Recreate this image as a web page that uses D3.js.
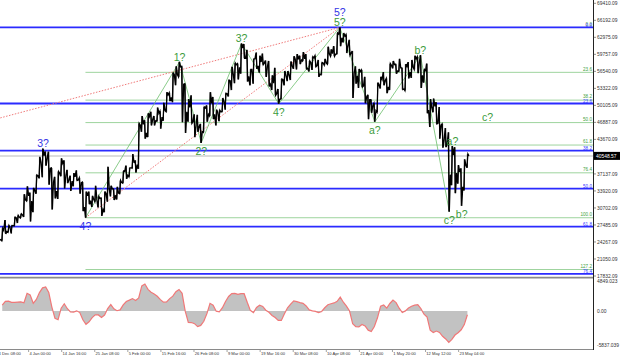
<!DOCTYPE html>
<html><head><meta charset="utf-8">
<script src="https://cdnjs.cloudflare.com/ajax/libs/d3/7.8.5/d3.min.js"></script>
<style>html,body{margin:0;padding:0;background:#fff}svg{display:block}text{font-family:"Liberation Sans",Arial,sans-serif}</style>
</head><body>
<svg id="chart" width="620" height="361"></svg>
<script>
// ---------------- DATA ----------------
// Daily BTCUSD values, day 0 = 24 Dec 2020 ... day 152 = 25 May 2021
const firstOpen = 23240;
const highs = [23780,24770,26870,28420,27390,27400,28990,29300,
 29600,33300,34800,33600,34500,36940,40365,41950,41380,41350,38260,36600,37600,40100,39700,37900,36800,37300,37800,36400,35600,33800,33800,33000,34900,32900,32600,33800,38500,34900,34300,
 34700,35900,37700,38700,38300,40900,39700,46700,48100,47300,48600,48900,48100,49700,49000,50600,52600,52500,56300,57500,58350,57500,54200,51300,52000,48400,48300,46600,
 49800,50100,52600,51700,49300,49200,51500,52400,54900,57400,58100,58000,61800,61700,60600,56900,58900,60100,59500,59900,58600,58500,55800,57200,53200,55100,56600,56600,58400,59400,59800,
 59500,60200,59800,58500,59300,59500,58700,58200,58900,61200,60700,61300,63800,64850,63800,63500,62500,60400,57500,57000,56800,55500,52100,51200,50500,54400,55500,56400,55200,58000,
 58500,57900,58900,57200,57900,58300,58700,59500,59300,59600,56900,58000,51300,51400,50700,49800,46600,45800,45000,42400,42200,38800,38200,39900,40900];
const lows = [22700,23430,24500,25800,26100,25880,27320,27850,
 28800,29000,32000,28130,29900,33400,36300,36500,38700,35100,30400,32500,32400,36700,34400,35400,33900,34800,35900,33400,30100,28850,31400,30900,31900,30800,29200,29900,31900,32900,32200,
 32300,33400,35400,36200,36600,38200,37400,38100,45100,43800,44100,46300,46300,47100,45700,47200,48900,50900,50700,53900,55500,46900,44900,47000,46700,44100,45100,43000,
 45000,47000,48100,47500,46300,47100,48900,49300,51800,53000,54300,55000,56100,59000,54600,53900,54200,57000,56300,57800,55500,53700,53000,52000,50400,51300,53900,54700,54900,57000,56900,
 57900,58500,57000,56500,56800,57400,55500,55900,57700,57900,59400,59400,59800,61300,62000,60000,59600,51500,54200,53400,53600,50500,47500,48700,47000,48800,53300,53900,52400,53000,
 57100,56100,56500,53100,52900,55200,55300,56900,56200,53400,54400,48600,46000,48800,46600,43800,42100,42200,30000,35000,33500,35300,31100,34000,38300];
const closes = [23730,24700,26440,26250,27040,27370,28880,28990,
 29400,32200,33000,32000,34000,36800,39400,40600,40200,38200,35500,33900,37300,39150,36800,36000,35800,36600,36000,35500,30850,33000,32100,32300,32300,32500,30400,33400,34300,34300,33100,
 33500,35500,37600,36900,38300,39200,38900,46400,46500,44900,48000,47400,47200,48600,47900,49100,52100,51600,55900,55900,57400,54100,48900,49700,47000,46300,46100,45100,
 49600,48400,50500,48400,48800,48900,50900,52300,54800,56000,57800,57300,61200,59000,55600,56900,58900,57600,58300,58100,57400,54100,54300,52300,51300,55000,55800,55800,57600,58800,58800,
 58700,58900,57100,58200,59100,57600,56000,58100,58100,59800,59900,59800,63600,62900,63200,61400,60000,56200,55700,56500,53800,51700,51200,50100,49100,54000,55000,54800,53600,57700,
 57800,56600,57200,53200,57500,56400,57300,58900,58200,55800,56700,49200,49700,49900,46700,46400,43500,42900,37000,40700,37300,37500,34700,38800,40548.57];
const lastPrice = 40548.57;

// oscillator, one value per day from day 2
const oscFirstDay = 2;
const osc = [960,1570,1620,1420,1420,1460,1500,1350,2890,2620,
 1260,1880,3010,3780,3940,3010,650,-1180,-1420,470,
 1190,380,-130,-170,30,-250,-1420,-2160,-1760,-1080,
 -620,-640,-1060,-650,410,1050,360,50,180,1010,
 1550,1780,2030,1720,2140,4090,4410,3530,3060,2760,
 2400,1850,1440,1500,2030,2420,3160,3520,2890,-30,
 -1860,-1880,-2060,-2550,-2350,-1680,-430,1260,950,-30,
 -150,540,1560,2370,2830,2890,2730,2840,2830,1420,
 110,-260,570,950,740,130,-210,-720,-1060,-1520,
 -1540,-460,530,1130,1650,1530,1360,1260,830,180,
 30,-50,-250,-70,530,1030,1180,1320,1570,2260,
 1440,800,0,-2080,-2550,-2600,-2190,-2440,-3120,-3350,
 -2530,-1110,780,980,470,1230,1800,1370,460,-250,
 20,490,770,960,1030,380,-520,-1000,-3140,-3520,
 -3270,-3500,-4120,-4560,-5130,-4640,-3920,-3550,-3060,-2210,
 -600];

// axis ticks
const priceTickLabels = ["69410.09","66192.09","62975.09","59757.09","56540.09","53322.09","50105.09","46887.09","43670.09","40452.09","37137.09","33920.09","30702.09","27485.09","24267.09","21050.09","17832.09"];
const oscTickValues = [4849.023, 0, -5837.039];
const oscTickLabels = ["4849.023","0.00","-5837.039"];
const timeTickDays = [0.333,11,21.667,32.333,43,53.667,64.333,75,85.667,96.333,107,117.667,128.333,139,149.667];
const timeTickLabels = ["24 Dec 08:00","4 Jan 00:00","14 Jan 16:00","25 Jan 08:00","5 Feb 00:00","15 Feb 16:00","26 Feb 08:00","9 Mar 00:00","19 Mar 16:00","30 Mar 08:00","10 Apr 08:00","21 Apr 00:00","1 May 20:00","12 May 12:00","23 May 04:00"];

// Fibonacci levels
const blueFibHigh = 64850, blueFibLow = 3850;
const blueFibLevels = [0,23.6,38.2,50,61.8,76.4];
const greenFibStartDay = 29, greenFibHigh = 64850, greenFibLow = 28850;
const greenFibLevels = [0,23.6,38.2,50,61.8,76.4,100,127.2];

// wave marks: day index and extreme type (H/L)
const blueWaveLabels = ["3?","4?","5?"];
const blueWaveDays = [15,29,111];
const blueWaveTypes = ["H","L","H"];
const greenWaveLabels = ["1?","2?","3?","4?","5?","a?","b?","c?"];
const greenWaveDays = [59,66,79,91,111,122,137,146];
const greenWaveTypes = ["H","L","H","L","H","L","H","L"];
const subWaveLabels = ["a?","b?"];
const subWaveDays = [147,150];
const subWaveTypes = ["H","L"];
const projLabel = "c?", projDay = 159, projPrice = 47000;
// red dotted trend line start (off-chart anchor)
const trendStartDay = 0, trendStartPrice = 47440;

// ---------------- CHART ----------------
const svg = d3.select("#chart");
const plotR = 593, mainB = 277, oscT = 279, oscB = 349;
const x = d3.scaleLinear().domain([0,152]).range([-5.5, -5.5 + 152*3.101]);
const y = d3.scaleLinear().domain([69410.09, 17832.09]).range([3.3, 276]);
const yo = d3.scaleLinear().domain([4849.023, -5837.039]).range([281.3, 346.8]);

const defs = svg.append("defs");
defs.append("clipPath").attr("id","cm").append("rect").attr("x",0).attr("y",0).attr("width",plotR).attr("height",mainB);
defs.append("clipPath").attr("id","co").append("rect").attr("x",0).attr("y",oscT).attr("width",plotR).attr("height",oscB-oscT);

const main = svg.append("g").attr("clip-path","url(#cm)");

function opens(i){ return i>0 ? closes[i-1] : firstOpen; }
function extremeDay(i, t){
  const up = closes[i] >= opens(i);
  if (t === "H") return up ? i + 2/3 : i + 1/3;
  return up ? i + 1/3 : i + 2/3;
}
function extremePt(i, t){ return [x(extremeDay(i,t)), y(t==="H" ? highs[i] : lows[i])]; }

// green fib
const gRange = greenFibHigh - greenFibLow;
greenFibLevels.forEach(l => {
  const yy = y(greenFibHigh - gRange*l/100);
  main.append("line").attr("x1", x(greenFibStartDay + 1/3)).attr("x2", plotR).attr("y1", yy).attr("y2", yy)
    .attr("stroke","#9ed49e").attr("stroke-width",1);
  svg.append("text").attr("x", plotR-1).attr("y", yy-1.8).attr("text-anchor","end")
    .attr("font-size",4.6).attr("fill","#3f9f3f").text(l.toFixed(1));
});
// blue fib
const bRange = blueFibHigh - blueFibLow;
blueFibLevels.forEach(l => {
  const yy = y(blueFibHigh - bRange*l/100);
  main.append("line").attr("x1", 0).attr("x2", plotR).attr("y1", yy).attr("y2", yy)
    .attr("stroke","#2b2bff").attr("stroke-width",1.8);
  svg.append("text").attr("x", plotR-1).attr("y", yy-0.6).attr("text-anchor","end")
    .attr("font-size",4.6).attr("fill","#3535ff").text(l.toFixed(1));
});

// current price line
main.append("line").attr("x1",0).attr("x2",plotR).attr("y1",y(lastPrice)).attr("y2",y(lastPrice))
  .attr("stroke","#d0d0d0").attr("stroke-width",1.5);

// red dotted trend lines
const top5 = extremePt(111,"H");
main.append("line").attr("x1",x(trendStartDay)).attr("y1",y(trendStartPrice)).attr("x2",top5[0]).attr("y2",top5[1])
  .attr("stroke","#f07a7a").attr("stroke-width",1).attr("stroke-dasharray","1.5,1.5");
const low4 = extremePt(29,"L");
main.append("line").attr("x1",low4[0]).attr("y1",low4[1]).attr("x2",top5[0]).attr("y2",top5[1])
  .attr("stroke","#f07a7a").attr("stroke-width",1).attr("stroke-dasharray","1.5,1.5");

// green wave lines
const wavePts = [low4].concat(greenWaveDays.map((d,i)=>extremePt(d, greenWaveTypes[i])));
main.append("path").attr("d", d3.line()(wavePts)).attr("fill","none").attr("stroke","#6cbf6c").attr("stroke-width",0.8);

// price zigzag (OHLC sequence per day)
const pts = [];
highs.forEach((h,i)=>{
  const o = opens(i), c = closes[i], l = lows[i];
  const seq = c >= o ? [o,l,h,c] : [o,h,l,c];
  seq.forEach((v,k)=>pts.push([x(i + k/3), y(v)]));
});
main.append("path").attr("d", d3.line()(pts)).attr("fill","none").attr("stroke","#000").attr("stroke-width",1.3).attr("stroke-linejoin","miter");
main.selectAll("line.bar").data(highs).join("line").attr("class","bar")
  .attr("x1",(d,i)=>x(i+0.5)).attr("x2",(d,i)=>x(i+0.5)).attr("y1",d=>y(d)).attr("y2",(d,i)=>y(lows[i]))
  .attr("stroke","#000").attr("stroke-width",0.9);

// wave labels
function label(txt, pt, type, color){
  svg.append("text").attr("x", pt[0]).attr("y", type==="H" ? pt[1]-1.2 : pt[1]+12.5)
    .attr("text-anchor","middle").attr("font-size",10.5).attr("fill",color).text(txt);
}
greenWaveLabels.forEach((t,i)=>{
  label(t, extremePt(greenWaveDays[i], greenWaveTypes[i]), greenWaveTypes[i], "#3c9b3c");
});
blueWaveLabels.forEach((t,i)=>{
  const p = extremePt(blueWaveDays[i], blueWaveTypes[i]);
  label(t, t==="5?" ? [p[0], p[1]-10.5] : p, blueWaveTypes[i], "#3434e6");
});
subWaveLabels.forEach((t,i)=>{
  label(t, extremePt(subWaveDays[i], subWaveTypes[i]), subWaveTypes[i], "#3c9b3c");
});
label(projLabel, [x(projDay), y(projPrice)], "H", "#3c9b3c");

// oscillator
const og = svg.append("g").attr("clip-path","url(#co)");
const oscData = osc.map((v,i)=>({d: oscFirstDay + i + 0.5, v}));
og.append("path").datum(oscData)
  .attr("d", d3.area().x(p=>x(p.d)).y0(yo(0)).y1(p=>yo(p.v)))
  .attr("fill","#c2c2c2");
og.append("path").datum(oscData)
  .attr("d", d3.line().x(p=>x(p.d)).y(p=>yo(p.v)))
  .attr("fill","none").attr("stroke","#f07878").attr("stroke-width",1.2);

// frames
svg.append("line").attr("x1",0).attr("x2",plotR).attr("y1",277.6).attr("y2",277.6).attr("stroke","#8a8a8a").attr("stroke-width",1.6);
svg.append("line").attr("x1",0).attr("x2",plotR).attr("y1",oscB+0.5).attr("y2",oscB+0.5).attr("stroke","#8a8a8a").attr("stroke-width",1);
svg.append("line").attr("x1",plotR+0.5).attr("x2",plotR+0.5).attr("y1",0).attr("y2",oscB+1).attr("stroke","#222").attr("stroke-width",1);

// price axis
priceTickLabels.forEach(t=>{
  const yy = y(+t);
  svg.append("line").attr("x1",plotR+0.5).attr("x2",plotR+3).attr("y1",yy).attr("y2",yy).attr("stroke","#444").attr("stroke-width",0.6);
  svg.append("text").attr("x",plotR+4).attr("y",yy+1.7).attr("font-size",4.9).attr("fill","#333").text(t);
});
// current price box
const ly = y(lastPrice);
svg.append("rect").attr("x",plotR+1).attr("y",ly-4).attr("width",27).attr("height",8).attr("fill","#000");
svg.append("text").attr("x",plotR+3).attr("y",ly+1.7).attr("font-size",4.9).attr("fill","#fff").text(lastPrice.toFixed(2));

// oscillator axis
oscTickValues.forEach((v,i)=>{
  const yy = Math.min(yo(v), 345.7);
  svg.append("text").attr("x",plotR+4).attr("y",yy+1.7).attr("font-size",4.9).attr("fill","#333").text(oscTickLabels[i]);
});

// time axis
timeTickDays.forEach((d,i)=>{
  const xx = x(d);
  svg.append("line").attr("x1",xx).attr("x2",xx).attr("y1",oscB+1).attr("y2",oscB+3).attr("stroke","#666").attr("stroke-width",0.6);
  svg.append("text").attr("x",xx+0.8).attr("y",355).attr("font-size",4.1).attr("fill","#333").text(timeTickLabels[i]);
});
</script>
</body></html>
